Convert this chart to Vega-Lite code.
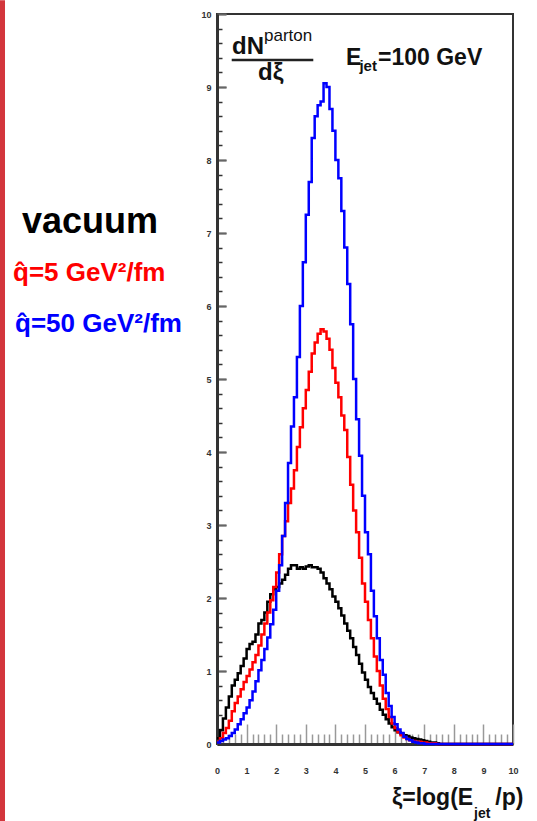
{
  "$schema": "https://vega.github.io/schema/vega-lite/v6.json",
  "autosize": "none",
  "padding": {"left": 217, "top": 14, "right": 24, "bottom": 77},
  "width": 296,
  "height": 730,
  "background": "white",
  "config": {
    "view": {"stroke": "#333", "strokeWidth": 2},
    "font": "Liberation Sans",
    "axis": {"grid": false, "title": null}
  },
  "datasets": {
    "main": [
      {"x": 0.0, "vac": 0.08, "q5": 0.03, "q50": 0.02},
      {"x": 0.1, "vac": 0.19, "q5": 0.08, "q50": 0.04},
      {"x": 0.2, "vac": 0.35, "q5": 0.15, "q50": 0.06},
      {"x": 0.3, "vac": 0.5, "q5": 0.22, "q50": 0.08},
      {"x": 0.4, "vac": 0.65, "q5": 0.32, "q50": 0.11},
      {"x": 0.5, "vac": 0.8, "q5": 0.45, "q50": 0.15},
      {"x": 0.6, "vac": 0.88, "q5": 0.56, "q50": 0.2},
      {"x": 0.7, "vac": 0.97, "q5": 0.65, "q50": 0.27},
      {"x": 0.8, "vac": 1.07, "q5": 0.75, "q50": 0.34},
      {"x": 0.9, "vac": 1.17, "q5": 0.85, "q50": 0.42},
      {"x": 1.0, "vac": 1.3, "q5": 0.93, "q50": 0.5},
      {"x": 1.1, "vac": 1.37, "q5": 1.02, "q50": 0.6},
      {"x": 1.2, "vac": 1.4, "q5": 1.12, "q50": 0.72},
      {"x": 1.3, "vac": 1.5, "q5": 1.22, "q50": 0.86},
      {"x": 1.4, "vac": 1.65, "q5": 1.35, "q50": 1.01},
      {"x": 1.5, "vac": 1.7, "q5": 1.5, "q50": 1.15},
      {"x": 1.6, "vac": 1.8, "q5": 1.65, "q50": 1.3},
      {"x": 1.7, "vac": 1.95, "q5": 1.8, "q50": 1.46},
      {"x": 1.8, "vac": 2.05, "q5": 1.97, "q50": 1.64},
      {"x": 1.9, "vac": 2.12, "q5": 2.15, "q50": 1.84},
      {"x": 2.0, "vac": 2.15, "q5": 2.35, "q50": 2.1},
      {"x": 2.1, "vac": 2.2, "q5": 2.6, "q50": 2.45},
      {"x": 2.2, "vac": 2.25, "q5": 2.85, "q50": 2.85},
      {"x": 2.3, "vac": 2.32, "q5": 3.05, "q50": 3.3},
      {"x": 2.4, "vac": 2.4, "q5": 3.3, "q50": 3.85},
      {"x": 2.5, "vac": 2.45, "q5": 3.5, "q50": 4.35},
      {"x": 2.6, "vac": 2.45, "q5": 3.75, "q50": 4.75},
      {"x": 2.7, "vac": 2.4, "q5": 4.07, "q50": 5.3},
      {"x": 2.8, "vac": 2.42, "q5": 4.34, "q50": 6.0},
      {"x": 2.9, "vac": 2.4, "q5": 4.6, "q50": 6.6},
      {"x": 3.0, "vac": 2.43, "q5": 4.85, "q50": 7.25},
      {"x": 3.1, "vac": 2.45, "q5": 5.1, "q50": 7.7},
      {"x": 3.2, "vac": 2.42, "q5": 5.35, "q50": 8.3},
      {"x": 3.3, "vac": 2.42, "q5": 5.5, "q50": 8.6},
      {"x": 3.4, "vac": 2.4, "q5": 5.62, "q50": 8.75},
      {"x": 3.5, "vac": 2.35, "q5": 5.68, "q50": 8.8},
      {"x": 3.6, "vac": 2.27, "q5": 5.65, "q50": 9.05},
      {"x": 3.7, "vac": 2.2, "q5": 5.55, "q50": 9.0},
      {"x": 3.8, "vac": 2.12, "q5": 5.4, "q50": 8.7},
      {"x": 3.9, "vac": 2.02, "q5": 5.15, "q50": 8.4},
      {"x": 4.0, "vac": 1.95, "q5": 4.95, "q50": 8.0},
      {"x": 4.1, "vac": 1.86, "q5": 4.75, "q50": 7.75},
      {"x": 4.2, "vac": 1.76, "q5": 4.5, "q50": 7.3},
      {"x": 4.3, "vac": 1.65, "q5": 4.3, "q50": 6.8},
      {"x": 4.4, "vac": 1.55, "q5": 3.93, "q50": 6.3},
      {"x": 4.5, "vac": 1.45, "q5": 3.55, "q50": 5.75},
      {"x": 4.6, "vac": 1.33, "q5": 3.2, "q50": 5.0},
      {"x": 4.7, "vac": 1.22, "q5": 2.9, "q50": 4.45},
      {"x": 4.8, "vac": 1.1, "q5": 2.55, "q50": 3.95},
      {"x": 4.9, "vac": 0.98, "q5": 2.2, "q50": 3.4},
      {"x": 5.0, "vac": 0.88, "q5": 1.95, "q50": 2.9},
      {"x": 5.1, "vac": 0.78, "q5": 1.7, "q50": 2.6},
      {"x": 5.2, "vac": 0.7, "q5": 1.45, "q50": 2.1},
      {"x": 5.3, "vac": 0.62, "q5": 1.2, "q50": 1.75},
      {"x": 5.4, "vac": 0.55, "q5": 1.0, "q50": 1.45},
      {"x": 5.5, "vac": 0.47, "q5": 0.8, "q50": 1.15},
      {"x": 5.6, "vac": 0.4, "q5": 0.62, "q50": 0.95},
      {"x": 5.7, "vac": 0.34, "q5": 0.48, "q50": 0.7},
      {"x": 5.8, "vac": 0.28, "q5": 0.37, "q50": 0.52},
      {"x": 5.9, "vac": 0.23, "q5": 0.28, "q50": 0.37},
      {"x": 6.0, "vac": 0.19, "q5": 0.22, "q50": 0.27},
      {"x": 6.1, "vac": 0.16, "q5": 0.16, "q50": 0.2},
      {"x": 6.2, "vac": 0.14, "q5": 0.12, "q50": 0.15},
      {"x": 6.3, "vac": 0.12, "q5": 0.09, "q50": 0.1},
      {"x": 6.4, "vac": 0.11, "q5": 0.07, "q50": 0.07},
      {"x": 6.5, "vac": 0.09, "q5": 0.05, "q50": 0.05},
      {"x": 6.6, "vac": 0.08, "q5": 0.04, "q50": 0.03},
      {"x": 6.7, "vac": 0.07, "q5": 0.03, "q50": 0.02},
      {"x": 6.8, "vac": 0.06, "q5": 0.03, "q50": 0.01},
      {"x": 6.9, "vac": 0.05, "q5": 0.02, "q50": 0.01},
      {"x": 7.0, "vac": 0.04, "q5": 0.02, "q50": 0.0},
      {"x": 7.1, "vac": 0.03, "q5": 0.01, "q50": 0.0},
      {"x": 7.2, "vac": 0.02, "q5": 0.01, "q50": 0.0},
      {"x": 7.3, "vac": 0.02, "q5": 0.01, "q50": 0.0},
      {"x": 7.4, "vac": 0.01, "q5": 0.0, "q50": 0.0},
      {"x": 7.5, "vac": 0.0, "q5": 0.0, "q50": 0.0},
      {"x": 10.0, "vac": 0.0, "q5": 0.0, "q50": 0.0}
    ]
  },
  "resolve": {"axis": {"x": "independent", "y": "independent"}},
  "layer": [
    {
      "data": {"values": [{}]},
      "mark": {"type": "rect", "color": "#d3363c"},
      "encoding": {
        "x": {"datum": -7.331, "type": "quantitative", "scale": {"domain": [0, 10], "nice": false, "zero": false}, "axis": null},
        "x2": {"datum": -7.162},
        "y": {"datum": 10.19, "type": "quantitative", "scale": {"domain": [0, 10], "nice": false, "zero": false}, "axis": null},
        "y2": {"datum": -1.06}
      }
    },
    {
      "data": {"values": [{}]},
      "mark": {"type": "text", "text": "vacuum", "font": "Liberation Sans", "fontWeight": "bold", "fontSize": 36, "align": "left", "baseline": "alphabetic", "color": "#000"},
      "encoding": {
        "x": {"datum": -6.588, "type": "quantitative", "axis": {"orient": "bottom", "values": [0,1,2,3,4,5,6,7,8,9,10], "labels": false, "domain": false, "ticks": true, "tickSize": -20, "tickColor": "#999", "tickWidth": 1.5}},
        "y": {"datum": 7.0, "type": "quantitative", "axis": {"orient": "left", "values": [0,1,2,3,4,5,6,7,8,9,10], "labels": false, "domain": false, "ticks": false, "grid": true, "gridDash": [9, 2000], "gridColor": "#666", "gridWidth": 1.8, "gridOpacity": 1}}
      }
    },
    {
      "data": {"values": [{}]},
      "mark": {"type": "text", "text": "q̂=5 GeV²/fm", "font": "Liberation Sans", "fontWeight": "bold", "fontSize": 26, "align": "left", "baseline": "alphabetic", "color": "#ff0000"},
      "encoding": {
        "x": {"datum": -6.892, "type": "quantitative", "axis": {"orient": "bottom", "values": [0.2,0.4,0.6,0.8,1.2,1.4,1.6,1.8,2.2,2.4,2.6,2.8,3.2,3.4,3.6,3.8,4.2,4.4,4.6,4.8,5.2,5.4,5.6,5.8,6.2,6.4,6.6,6.8,7.2,7.4,7.6,7.8,8.2,8.4,8.6,8.8,9.2,9.4,9.6,9.8], "labels": false, "domain": false, "ticks": true, "tickSize": -10, "tickColor": "#999", "tickWidth": 1.5}},
        "y": {"datum": 6.342, "type": "quantitative", "axis": {"orient": "left", "values": [0.2,0.4,0.6,0.8,1.2,1.4,1.6,1.8,2.2,2.4,2.6,2.8,3.2,3.4,3.6,3.8,4.2,4.4,4.6,4.8,5.2,5.4,5.6,5.8,6.2,6.4,6.6,6.8,7.2,7.4,7.6,7.8,8.2,8.4,8.6,8.8,9.2,9.4,9.6,9.8], "labels": false, "domain": false, "ticks": false, "grid": true, "gridDash": [5, 2000], "gridColor": "#333", "gridWidth": 1.5, "gridOpacity": 1}}
      }
    },
    {
      "data": {"values": [{}]},
      "mark": {"type": "text", "text": "q̂=50 GeV²/fm", "font": "Liberation Sans", "fontWeight": "bold", "fontSize": 26, "align": "left", "baseline": "alphabetic", "color": "#0000ff"},
      "encoding": {
        "x": {"datum": -6.824, "type": "quantitative", "axis": null},
        "y": {"datum": 5.644, "type": "quantitative", "axis": null}
      }
    },
    {
      "data": {"name": "main"},
      "transform": [{"fold": ["vac", "q5", "q50"], "as": ["series", "value"]}],
      "mark": {"type": "line", "interpolate": "step-after", "strokeWidth": 2.5},
      "encoding": {
        "x": {"field": "x", "type": "quantitative", "axis": {"orient": "bottom", "values": [0,1,2,3,4,5,6,7,8,9,10], "ticks": false, "domain": true, "domainColor": "#333", "domainWidth": 3, "labelFontSize": 9, "labelFontWeight": "bold", "labelColor": "#333", "labelPadding": 22, "labelFlush": false}},
        "y": {"field": "value", "type": "quantitative", "axis": {"orient": "left", "values": [0,1,2,3,4,5,6,7,8,9,10], "ticks": false, "domain": true, "domainColor": "#333", "domainWidth": 3, "labelFontSize": 9, "labelFontWeight": "bold", "labelColor": "#333", "labelPadding": 6, "labelFlush": false, "grid": true, "gridDash": [9, 2000], "gridColor": "#666", "gridWidth": 1.8, "gridOpacity": 1}},
        "color": {"field": "series", "type": "nominal", "scale": {"domain": ["vac", "q5", "q50"], "range": ["#000000", "#ff0000", "#0000ff"]}, "legend": null},
        "order": {"field": "x", "type": "quantitative"}
      }
    },
    {
      "data": {"values": [{}]},
      "mark": {"type": "rule", "strokeWidth": 2.5, "color": "#222"},
      "encoding": {
        "x": {"datum": 0.497, "type": "quantitative", "axis": null},
        "x2": {"datum": 3.253},
        "y": {"datum": 9.37, "type": "quantitative", "axis": null}
      }
    },
    {
      "data": {"values": [{}]},
      "mark": {"type": "text", "text": "dN", "font": "Liberation Sans", "fontWeight": "bold", "fontSize": 24, "align": "left", "baseline": "alphabetic", "color": "#111"},
      "encoding": {"x": {"datum": 0.507, "type": "quantitative", "axis": null}, "y": {"datum": 9.452, "type": "quantitative", "axis": null}}
    },
    {
      "data": {"values": [{}]},
      "mark": {"type": "text", "text": "parton", "font": "Liberation Sans", "fontSize": 17, "align": "left", "baseline": "alphabetic", "color": "#111"},
      "encoding": {"x": {"datum": 1.588, "type": "quantitative", "axis": null}, "y": {"datum": 9.63, "type": "quantitative", "axis": null}}
    },
    {
      "data": {"values": [{}]},
      "mark": {"type": "text", "text": "dξ", "font": "Liberation Sans", "fontWeight": "bold", "fontSize": 24, "align": "left", "baseline": "alphabetic", "color": "#111"},
      "encoding": {"x": {"datum": 1.385, "type": "quantitative", "axis": null}, "y": {"datum": 9.096, "type": "quantitative", "axis": null}}
    },
    {
      "data": {"values": [{}]},
      "mark": {"type": "text", "text": "E", "font": "Liberation Sans", "fontWeight": "bold", "fontSize": 23, "align": "left", "baseline": "alphabetic", "color": "#111"},
      "encoding": {"x": {"datum": 4.358, "type": "quantitative", "axis": null}, "y": {"datum": 9.301, "type": "quantitative", "axis": null}}
    },
    {
      "data": {"values": [{}]},
      "mark": {"type": "text", "text": "jet", "font": "Liberation Sans", "fontWeight": "bold", "fontSize": 15, "align": "left", "baseline": "alphabetic", "color": "#111"},
      "encoding": {"x": {"datum": 4.81, "type": "quantitative", "axis": null}, "y": {"datum": 9.219, "type": "quantitative", "axis": null}}
    },
    {
      "data": {"values": [{}]},
      "mark": {"type": "text", "text": "=100 GeV", "font": "Liberation Sans", "fontWeight": "bold", "fontSize": 23, "align": "left", "baseline": "alphabetic", "color": "#111"},
      "encoding": {"x": {"datum": 5.44, "type": "quantitative", "axis": null}, "y": {"datum": 9.301, "type": "quantitative", "axis": null}}
    },
    {
      "data": {"values": [{}]},
      "mark": {"type": "text", "text": "ξ=log(E", "font": "Liberation Sans", "fontWeight": "bold", "fontSize": 23, "align": "left", "baseline": "alphabetic", "color": "#111"},
      "encoding": {"x": {"datum": 5.912, "type": "quantitative", "axis": null}, "y": {"datum": -0.836, "type": "quantitative", "axis": null}}
    },
    {
      "data": {"values": [{}]},
      "mark": {"type": "text", "text": "jet", "font": "Liberation Sans", "fontWeight": "bold", "fontSize": 14, "align": "left", "baseline": "alphabetic", "color": "#111"},
      "encoding": {"x": {"datum": 8.682, "type": "quantitative", "axis": null}, "y": {"datum": -1.014, "type": "quantitative", "axis": null}}
    },
    {
      "data": {"values": [{}]},
      "mark": {"type": "text", "text": "/p)", "font": "Liberation Sans", "fontWeight": "bold", "fontSize": 23, "align": "left", "baseline": "alphabetic", "color": "#111"},
      "encoding": {"x": {"datum": 9.4, "type": "quantitative", "axis": null}, "y": {"datum": -0.836, "type": "quantitative", "axis": null}}
    }
  ]
}
